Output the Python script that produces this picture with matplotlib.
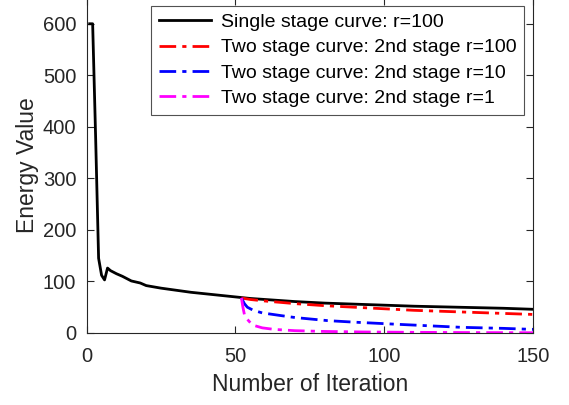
import matplotlib
matplotlib.use("Agg")
import matplotlib.pyplot as plt

plt.rcParams['font.family'] = ['Liberation Sans', 'DejaVu Sans']

# ── Data (iteration, energy) ──
single_it = [1, 2, 3, 4, 5, 6, 7, 8, 10, 12, 15, 18, 20, 25, 30, 35, 40, 45, 50,
             55, 60, 70, 80, 90, 100, 110, 125, 140, 150]
single_e = [600, 600, 380, 145, 112, 103, 126, 121, 115, 110, 101, 97, 92, 87, 83,
            79, 76, 73, 70, 67, 65, 61, 58, 56, 54, 52, 50, 48, 46]

two100_it = [52, 55, 60, 70, 80, 90, 100, 110, 125, 140, 150]
two100_e = [68, 65, 62, 57, 53, 50, 47, 44, 41, 38, 36]

two10_it = [52, 53, 54, 56, 59, 65, 70, 81, 90, 104, 115, 126, 140, 150]
two10_e = [68, 57, 50, 44, 39, 34, 30, 24, 21, 17, 14, 11, 9, 7]

two1_it = [52, 52.5, 53, 53.6, 55, 56, 59, 63, 70, 80, 93, 110, 130, 150]
two1_e = [68, 50, 36, 29, 20, 15, 10, 7, 4.5, 3, 2, 1.3, 0.8, 0.5]

labels = ['Single stage curve: r=100',
          'Two stage curve: 2nd stage r=100',
          'Two stage curve: 2nd stage r=10',
          'Two stage curve: 2nd stage r=1']

DASHDOT = (0, (6, 2.2, 1.5, 2.2))
AX_C = '#262626'

fig = plt.figure(figsize=(5.69, 4.05), dpi=100)
ax = fig.add_axes([86.7 / 569, 72 / 405, (533 - 86.7) / 569, 335 / 405])

ax.plot(single_it, single_e, color='black', lw=2.0, label=labels[0])
ax.plot(two100_it, two100_e, color='red', lw=2.0, ls=DASHDOT, label=labels[1])
ax.plot(two10_it, two10_e, color='blue', lw=2.0, ls=DASHDOT, label=labels[2])
ax.plot(two1_it, two1_e, color='magenta', lw=2.0, ls=DASHDOT, label=labels[3])

ax.set_xlim(0, 150)
ax.set_ylim(0, 650)
ax.set_xticks([0, 50, 100, 150])
ax.set_yticks([0, 100, 200, 300, 400, 500, 600])
ax.tick_params(direction='in', top=True, right=True, labelsize=14.5,
               colors=AX_C, length=5, width=0.8)
ax.tick_params(axis='y', pad=7.5)
ax.tick_params(axis='x', pad=10)
for sp in ax.spines.values():
    sp.set_color(AX_C)
    sp.set_linewidth(0.8)

ax.set_xlabel('Number of Iteration', fontsize=16.5, color=AX_C, labelpad=5)
ax.set_ylabel('Energy Value', fontsize=16.5, color=AX_C, labelpad=3)

leg = ax.legend(loc='upper right', bbox_to_anchor=(0.980, 0.976), fontsize=14,
                frameon=True, fancybox=False, handlelength=2.7,
                handletextpad=0.5, borderpad=0.38, labelspacing=0.40,
                borderaxespad=0)
leg.get_frame().set_edgecolor(AX_C)
leg.get_frame().set_linewidth(0.8)

fig.savefig('out.png', dpi=100)
